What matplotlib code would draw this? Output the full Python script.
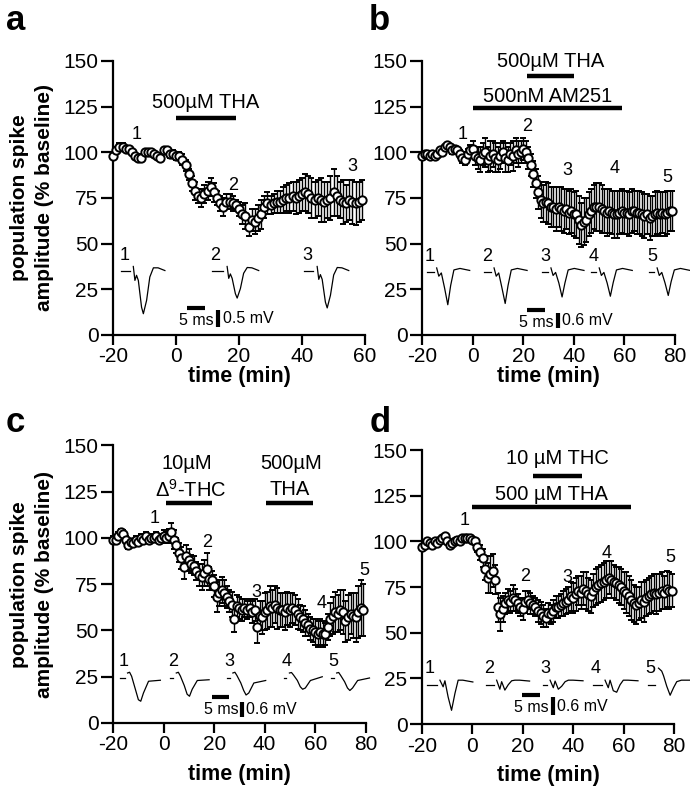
import matplotlib.pyplot as plt
import numpy as np

plt.rcParams["font.family"] = ["Liberation Sans", "DejaVu Sans"]
plt.rcParams["mathtext.fontset"] = "custom"
plt.rcParams["mathtext.rm"] = "Liberation Sans"
plt.rcParams["mathtext.it"] = "Liberation Sans:italic"
plt.rcParams["axes.unicode_minus"] = False

# ---- time course data (% baseline, mean and SEM, one point per minute) ----
time_a = np.arange(-20, 60)
amp_a = [98, 101, 103, 103, 102, 102, 100, 98, 97, 97, 100, 100, 100, 99, 98, 97, 101, 101, 99, 99,
         98, 98, 96, 93, 88, 83, 79, 76, 75, 77, 79, 81, 78, 75, 72, 70, 73, 73, 72, 71,
         69, 66, 65, 59, 63, 62, 64, 66, 70, 72, 71, 72, 73, 73, 74, 75, 75, 76, 75, 76,
         77, 78, 77, 75, 74, 75, 74, 73, 74, 75, 78, 76, 74, 73, 72, 74, 73, 72, 73, 74]
sem_a = [1, 1, 2, 2, 1, 1, 1, 1, 2, 1, 1, 1, 1, 1, 1, 2, 1, 1, 2, 2,
         2, 2, 3, 3, 3, 4, 5, 4, 5, 5, 5, 5, 5, 4, 4, 5, 4, 4, 4, 3,
         4, 5, 7, 5, 6, 7, 7, 8, 6, 6, 5, 5, 6, 6, 7, 7, 8, 8, 9, 9,
         9, 10, 10, 11, 10, 10, 12, 11, 10, 12, 13, 11, 10, 12, 10, 11, 12, 12, 11, 11]

time_b = np.arange(-20, 80)
amp_b = [98, 99, 99, 98, 99, 98, 99, 101, 100, 103, 104, 103, 101, 102, 101, 99, 97, 96, 99, 101,
         102, 98, 97, 96, 99, 100, 96, 98, 99, 97, 96, 98, 100, 97, 96, 99, 98, 101, 99, 100,
         102, 100, 97, 93, 88, 83, 78, 74, 72, 73, 72, 70, 70, 69, 70, 69, 68, 69, 67, 68,
         66, 66, 63, 60, 62, 63, 66, 68, 70, 70, 70, 69, 68, 67, 68, 67, 66, 66, 67, 68,
         67, 67, 66, 68, 68, 67, 67, 66, 65, 66, 64, 65, 66, 67, 66, 67, 66, 67, 68, 68]
sem_b = [1, 1, 1, 1, 1, 1, 1, 1, 2, 1, 1, 1, 2, 1, 2, 2, 3, 3, 3, 3,
         4, 5, 6, 7, 6, 8, 7, 8, 7, 8, 7, 7, 6, 8, 7, 6, 8, 7, 7, 6,
         6, 6, 6, 6, 7, 8, 9, 10, 10, 11, 11, 11, 11, 12, 11, 12, 12, 11, 12, 12,
         12, 13, 13, 12, 13, 12, 12, 12, 12, 13, 13, 13, 12, 13, 12, 12, 13, 13, 12, 12,
         12, 12, 12, 12, 11, 12, 12, 12, 12, 11, 12, 11, 12, 12, 12, 11, 12, 12, 11, 11]

time_c = np.arange(-20, 80)
amp_c = [99, 99, 101, 103, 102, 99, 96, 98, 97, 99, 98, 100, 99, 101, 99, 100, 100, 101, 99, 100,
         101, 100, 101, 103, 99, 96, 92, 89, 84, 90, 88, 86, 85, 82, 80, 79, 81, 83, 78, 77,
         74, 68, 70, 72, 70, 68, 66, 64, 56, 63, 62, 61, 62, 61, 62, 60, 61, 52, 58, 57,
         60, 61, 63, 62, 64, 62, 61, 61, 60, 62, 61, 62, 61, 59, 57, 56, 54, 53, 51, 50,
         49, 48, 49, 48, 48, 52, 56, 58, 60, 59, 61, 60, 55, 57, 59, 58, 57, 60, 62, 61]
sem_c = [2, 1, 2, 2, 2, 2, 2, 1, 2, 2, 2, 2, 2, 2, 2, 2, 2, 2, 2, 2,
         3, 3, 4, 5, 5, 4, 5, 6, 6, 6, 6, 5, 5, 5, 6, 7, 7, 9, 6, 5,
         6, 8, 7, 7, 7, 6, 6, 7, 7, 6, 6, 6, 5, 5, 5, 6, 6, 9, 8, 9,
         10, 10, 11, 10, 10, 11, 9, 9, 10, 9, 9, 8, 8, 8, 7, 7, 7, 6, 6, 6,
         7, 7, 7, 7, 6, 7, 9, 10, 11, 10, 11, 12, 11, 12, 11, 12, 13, 14, 15, 14]

time_d = np.arange(-20, 80)
amp_d = [97, 98, 100, 99, 98, 100, 99, 101, 102, 103, 100, 98, 99, 100, 101, 100, 102, 102, 102, 102,
         101, 100, 97, 94, 91, 85, 80, 82, 84, 79, 64, 60, 63, 66, 68, 67, 69, 68, 66, 64,
         63, 67, 68, 66, 65, 64, 62, 61, 59, 58, 61, 60, 62, 64, 64, 65, 66, 67, 68, 70,
         69, 71, 73, 72, 74, 73, 71, 70, 73, 75, 76, 77, 78, 79, 80, 79, 78, 77, 76, 75,
         73, 72, 70, 68, 66, 65, 66, 68, 67, 69, 70, 71, 72, 71, 72, 73, 72, 74, 73, 73]
sem_d = [1, 1, 1, 1, 1, 1, 1, 1, 1, 1, 1, 1, 1, 1, 1, 1, 1, 1, 1, 1,
         1, 2, 3, 4, 5, 6, 8, 10, 9, 8, 8, 9, 7, 6, 6, 6, 7, 6, 5, 5,
         6, 6, 5, 6, 5, 5, 6, 6, 6, 5, 5, 5, 6, 6, 6, 6, 7, 7, 7, 8,
         8, 9, 8, 9, 9, 10, 9, 9, 9, 10, 10, 10, 10, 10, 9, 10, 9, 9, 10, 10,
         10, 11, 11, 11, 10, 10, 9, 10, 11, 10, 10, 10, 10, 11, 10, 10, 9, 10, 10, 9]

# ---- example field potential traces (ms, mV relative to baseline) ----
trace_ms_a = [0, 0.45, 0.9, 1.4, 2.3, 2.8, 3.7, 4.6, 5.6, 6.9, 8.8]
traces_a = [
    [0, -0.41, -0.26, -0.41, -1.20, -1.39, -1.00, -0.31, -0.04, -0.04, -0.12],
    [0, -0.35, -0.22, -0.35, -0.80, -0.93, -0.65, -0.20, -0.03, -0.04, -0.12],
    [0, -0.38, -0.24, -0.38, -1.05, -1.22, -0.85, -0.25, -0.03, -0.04, -0.12],
]
trace_ms_b = [0, 0.6, 1.3, 2.2, 3.1, 3.9, 4.8, 6.5, 9.2]
traces_b = [
    [0, -0.33, -0.20, -0.80, -1.47, -0.70, -0.08, -0.02, -0.10],
    [0, -0.33, -0.20, -0.80, -1.42, -0.70, -0.08, -0.02, -0.10],
    [0, -0.30, -0.18, -0.60, -1.16, -0.60, -0.08, -0.02, -0.10],
    [0, -0.30, -0.18, -0.60, -1.13, -0.58, -0.08, -0.02, -0.10],
    [0, -0.30, -0.18, -0.60, -1.10, -0.55, -0.08, -0.02, -0.10],
]
trace_ms_c = [0, 0.6, 1.2, 2.35, 3.2, 3.9, 4.7, 6.2, 9.7]
traces_c = [
    [0, 0.03, -0.13, -0.67, -1.07, -1.13, -0.80, -0.33, -0.29],
    [0, 0.03, -0.12, -0.50, -0.85, -0.93, -0.65, -0.30, -0.27],
    [0, 0.03, -0.10, -0.40, -0.70, -0.88, -0.80, -0.40, -0.30],
    [0, 0.02, -0.08, -0.30, -0.55, -0.65, -0.60, -0.30, -0.15],
    [0, 0.02, -0.10, -0.35, -0.60, -0.70, -0.60, -0.30, -0.20],
]
trace_ms_d = [0, 0.9, 1.4, 2.3, 3.25, 4.2, 5.1, 6.4, 9.2]
traces_d = [
    [0, -0.22, -0.02, -0.56, -1.00, -0.44, 0, 0, -0.06],
    [0, -0.30, -0.05, -0.33, -0.15, -0.02, 0, 0, -0.03],
    [0, -0.25, -0.03, -0.30, -0.20, -0.05, 0, 0, -0.02],
    [0, -0.25, 0, -0.35, -0.40, -0.15, 0, 0, -0.02],
    [0.40, 0.30, 0.15, -0.20, -0.50, -0.25, -0.05, 0, 0],
]

NUM = 13
DRUG = 14.5
YLABEL = "population spike\namplitude (% baseline)"


def setup_axes(ax, xmax, xlabelpad):
    ax.set_xlim(-20, xmax)
    ax.set_ylim(0, 150)
    ax.set_xticks(np.arange(-20, xmax + 1, 20))
    ax.set_yticks([0, 25, 50, 75, 100, 125, 150])
    for side in ("top", "right"):
        ax.spines[side].set_visible(False)
    for side in ("left", "bottom"):
        ax.spines[side].set_linewidth(1.6)
    ax.tick_params(axis="x", width=1.6, length=7.5, labelsize=15, pad=1.5)
    ax.tick_params(axis="y", width=1.6, length=9, labelsize=15, pad=1.5)
    ax.set_xlabel("time (min)", fontsize=15.5, fontweight="bold", labelpad=xlabelpad)


def plot_course(ax, t, amp, sem):
    ax.errorbar(t, amp, yerr=sem, fmt="o", ms=6, mfc="white", mec="black", mew=1.4,
                ecolor="black", elinewidth=1, capsize=2.5, capthick=1, clip_on=False, zorder=3)


def draw_traces(ax, ms, traces, starts, base, xs, ys, nums_x):
    for i, (tr, t0, nx) in enumerate(zip(traces, starts, nums_x)):
        ax.plot(t0 + np.asarray(ms) * xs, base + np.asarray(tr) * ys, color="black", lw=0.9,
                clip_on=False)
        ax.plot([nx - 0.3, t0 - 1.2], [base - 2.5, base - 2.5], color="black", lw=0.9)
        ax.text(nx + 0.8, base + 1.5, str(i + 1), fontsize=NUM, ha="center", va="bottom")


def scale_bar(ax, x0, x1, yh, xv, yv0, yv1, xlabel, ylabel):
    ax.plot([x0, x1], [yh, yh], color="black", lw=3, solid_capstyle="butt")
    ax.text((x0 + x1) / 2, yh - 2.5, xlabel, fontsize=11.5, ha="center", va="top")
    ax.plot([xv, xv], [yv0, yv1], color="black", lw=3, solid_capstyle="butt")
    ax.text(xv + 1.5, (yv0 + yv1) / 2, ylabel, fontsize=11.5, ha="left", va="center")


def drug_bar(ax, x0, x1, y, label, ly):
    ax.plot([x0, x1], [y, y], color="black", lw=3.2, solid_capstyle="butt", clip_on=False)
    if label:
        ax.text((x0 + x1) / 2, ly, label, fontsize=DRUG, ha="center", va="center")


def point_labels(ax, spots):
    for i, (x, y) in enumerate(spots):
        ax.text(x, y, str(i + 1), fontsize=NUM, ha="center", va="center")


fig = plt.figure(figsize=(6.9, 7.91), dpi=100)
ax_a = fig.add_axes([0.164, 0.5765, 0.365, 0.3465])
ax_b = fig.add_axes([0.6116, 0.5765, 0.3664, 0.3465])
ax_c = fig.add_axes([0.164, 0.086, 0.366, 0.351])
ax_d = fig.add_axes([0.6116, 0.0847, 0.3654, 0.3463])

# panel a
setup_axes(ax_a, 60, 0)
plot_course(ax_a, time_a, amp_a, sem_a)
drug_bar(ax_a, 0, 19, 119, "500\u00b5M THA", 127.5)
point_labels(ax_a, [(-12.4, 109.5), (18, 82), (56, 92)])
draw_traces(ax_a, trace_ms_a, traces_a, [-13.6, 16.2, 44.8], 37.5, 1.14, 18.6, [-17.1, 11.7, 41])
scale_bar(ax_a, 3.5, 9.2, 14.8, 13.3, 4.4, 13.7, "5 ms", "0.5 mV")
ax_a.set_ylabel(YLABEL, fontsize=15, fontweight="bold", labelpad=7, linespacing=1.35)

# panel b
setup_axes(ax_b, 80, 0)
plot_course(ax_b, time_b, amp_b, sem_b)
drug_bar(ax_b, 21.5, 40, 141.8, "500\u00b5M THA", 149.5)
drug_bar(ax_b, 0, 59, 124, "500nM AM251", 130.5)
point_labels(ax_b, [(-3.8, 109.5), (21.5, 114), (37.3, 90), (56.3, 91), (77.2, 86)])
draw_traces(ax_b, trace_ms_b, traces_b, [-14.2, 8.5, 31, 50.1, 73], 36.7, 1.42, 13.7,
            [-17.6, 4.9, 27.8, 47.2, 70.1])
scale_bar(ax_b, 21.5, 28.6, 13.7, 33.8, 3.8, 12, "5 ms", "0.6 mV")

# panel c
setup_axes(ax_c, 80, 7)
plot_course(ax_c, time_c, amp_c, sem_c)
drug_bar(ax_c, 1, 19.3, 118.7, None, None)
ax_c.text(9, 140, "10\u00b5M", fontsize=DRUG, ha="center", va="center")
ax_c.text(10.5, 126, r"$\Delta^{9}$-THC", fontsize=DRUG, ha="center", va="center")
drug_bar(ax_c, 40.6, 59, 118.7, None, None)
ax_c.text(50.6, 140, "500\u00b5M", fontsize=DRUG, ha="center", va="center")
ax_c.text(50, 126, "THA", fontsize=DRUG, ha="center", va="center")
point_labels(ax_c, [(-3.7, 110.6), (17.3, 97.7), (36.6, 70.7), (62.5, 64.7), (79.6, 82.6)])
draw_traces(ax_c, trace_ms_c, traces_c, [-14.3, 5.0, 27.4, 49.8, 68.5], 27, 1.34, 13.5,
            [-16.8, 2.9, 25.2, 47.9, 66.4])
scale_bar(ax_c, 19.3, 26, 14, 31.2, 3.2, 11.3, "5 ms", "0.6 mV")
ax_c.set_ylabel(YLABEL, fontsize=15, fontweight="bold", labelpad=7, linespacing=1.35)

# panel d
setup_axes(ax_d, 80, 7)
plot_course(ax_d, time_d, amp_d, sem_d)
drug_bar(ax_d, 24, 43.5, 136, "10 \u00b5M THC", 145.6)
drug_bar(ax_d, 0, 63, 118.7, "500 \u00b5M THA", 125.5)
point_labels(ax_d, [(-3, 111.7), (20.9, 80.5), (37.5, 80), (53.4, 93.6), (78.4, 91.4)])
draw_traces(ax_d, trace_ms_d, traces_d, [-12.9, 9.6, 30.8, 52.6, 73.8], 24, 1.42, 16.5,
            [-17.6, 5.7, 28.1, 48, 69.8])
scale_bar(ax_d, 19.7, 26.8, 15.9, 32, 4.9, 14.8, "5 ms", "0.6 mV")

for lbl, x, y in [("a", 0.008, 0.995), ("b", 0.535, 0.995), ("c", 0.008, 0.487), ("d", 0.535, 0.487)]:
    fig.text(x, y, lbl, fontsize=25, fontweight="bold", ha="left", va="top")

fig.savefig("out.png", dpi=100)
